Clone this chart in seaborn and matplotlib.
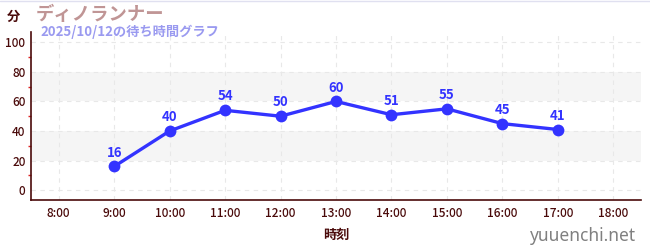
import matplotlib
matplotlib.use("Agg")
import matplotlib.pyplot as plt
import seaborn as sns
import pandas as pd
from matplotlib.ticker import MultipleLocator

hours = [9, 10, 11, 12, 13, 14, 15, 16, 17]
waits = [16, 40, 54, 50, 60, 51, 55, 45, 41]
tick_hours = [8, 9, 10, 11, 12, 13, 14, 15, 16, 17, 18]
tick_labels = [f"{h}:00" for h in tick_hours]
title = "ディノランナー"
subtitle = "2025/10/12の待ち時間グラフ"

sns.set_theme(style="white")
plt.rcParams['font.family'] = ['Noto Sans CJK JP', 'DejaVu Sans']

df = pd.DataFrame({"hour": hours, "wait": waits})

fig = plt.figure(figsize=(6.5, 2.5), dpi=100)
ax = fig.add_axes([31/650, 1-200/250, (641-31)/650, (200-32)/250])

dark = "#4a0a0a"
blue = "#3333ff"

for lo, hi in [(20, 40), (60, 80)]:
    ax.axhspan(lo, hi, color="#f5f5f5", zorder=0, lw=0)

sns.lineplot(data=df, x="hour", y="wait", ax=ax, color=blue, lw=2.4,
             marker="o", markersize=8.5, markeredgewidth=0, zorder=3)

for h, w in zip(hours, waits):
    ax.annotate(str(w), (h, w), xytext=(0, 5), textcoords="offset points",
                ha="center", va="bottom", color=blue, fontsize=9.5,
                fontweight="bold", zorder=4)

ax.set_xlim(7.5, 18.5)
ax.set_ylim(-6.7, 107)
ax.set_xticks(tick_hours)
ax.set_xticklabels(tick_labels)
ax.set_yticks([0, 20, 40, 60, 80, 100])
ax.yaxis.set_minor_locator(MultipleLocator(10))
ax.grid(True, which="major", color="#e8e8e8", ls=(0, (4, 4)), lw=0.8)
ax.set_axisbelow(True)

for s in ["top", "right"]:
    ax.spines[s].set_visible(False)
for s in ["left", "bottom"]:
    ax.spines[s].set_color(dark)
    ax.spines[s].set_linewidth(1.2)

ax.tick_params(axis="both", which="major", length=4, width=1, color=dark,
               labelcolor=dark, labelsize=8.5, direction="inout")
ax.tick_params(axis="y", which="minor", length=2.5, width=1, color="#dd2222",
               direction="out", left=True)
ax.tick_params(axis="x", which="major", pad=3)
ax.tick_params(axis="y", which="major", pad=2)
for lbl in ax.get_xticklabels() + ax.get_yticklabels():
    lbl.set_fontweight("medium")

ax.set_xlabel("時刻", color=dark, fontsize=9.5, fontweight="bold", labelpad=6)
ax.set_ylabel("")

fig.text(7/650, 1-17/250, "分", color=dark, fontsize=9.5, fontweight="bold",
         va="center", ha="left")
fig.text(36/650, 1-14/250, title, color="#c09595", fontsize=13.2, fontweight="bold",
         va="center", ha="left")
fig.text(40/650, 1-32/250, subtitle, color="#9a9af0", fontsize=9.5, fontweight="bold",
         va="center", ha="left")
fig.text(636/650, 1-236/250, "yuuenchi.net", color="#808080", fontsize=12.5,
         va="center", ha="right", family=["Noto Sans", "DejaVu Sans"])

fig.add_artist(plt.Line2D([0, 1], [1-1/250, 1-1/250], color="#e0e0f0", lw=1))

fig.savefig("out.png", dpi=100)
